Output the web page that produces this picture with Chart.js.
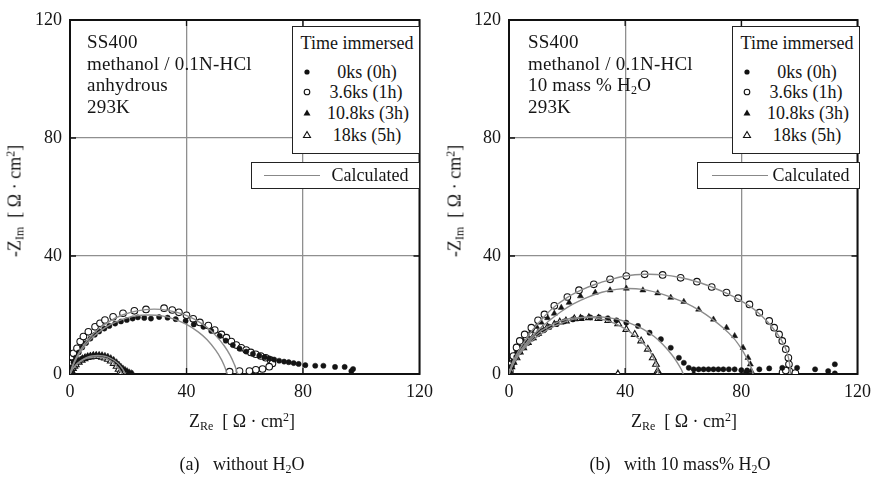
<!DOCTYPE html>
<html><head><meta charset="utf-8">
<script src="https://cdn.jsdelivr.net/npm/chart.js@4/dist/chart.umd.min.js"></script>
<style>
body{margin:0;background:#fff;width:878px;height:479px;overflow:hidden;position:relative;font-family:"Liberation Serif","DejaVu Serif",serif;color:#151515}
canvas{position:absolute;top:0}
.t{position:absolute;white-space:nowrap;font-size:19px;line-height:21.6px;letter-spacing:0.2px}
.c{position:absolute;white-space:nowrap;font-size:18px;transform:translate(-50%,-50%)}
.box{position:absolute;border:1.4px solid #222;background:#fff;box-sizing:border-box}
.mk{position:absolute;transform:translate(-50%,-50%)}
.ln{position:absolute;height:0;border-top:1.3px solid #888}
sub{font-size:12px;vertical-align:-3px;line-height:0}
sup{font-size:12px;vertical-align:6px;line-height:0}
</style></head>
<body>
<canvas id="ca" width="440" height="479" style="left:0"></canvas>
<canvas id="cb" width="438" height="479" style="left:440px"></canvas>

<!-- annotations (a) -->
<div class="t" style="left:87px;top:31px">SS400<br>methanol / 0.1N-HCl<br>anhydrous<br>293K</div>
<!-- annotations (b) -->
<div class="t" style="left:528px;top:31px">SS400<br>methanol / 0.1N-HCl<br>10 mass % H<sub>2</sub>O<br>293K</div>

<!-- legend (a) -->
<div class="box" style="left:292px;top:26px;width:128px;height:128px"></div>
<div class="c" style="left:357px;top:43px">Time immersed</div>
<svg class="mk" style="left:307px;top:72px" width="10" height="10"><circle cx="5" cy="5" r="2.6" fill="#111"/></svg>
<svg class="mk" style="left:307px;top:92px" width="10" height="10"><circle cx="5" cy="5" r="2.8" fill="#fff" stroke="#111" stroke-width="1.1"/></svg>
<svg class="mk" style="left:307px;top:113px" width="10" height="10"><polygon points="5,1.5 8.5,7.5 1.5,7.5" fill="#111"/></svg>
<svg class="mk" style="left:307px;top:135px" width="10" height="10"><polygon points="5,1.5 8.5,7.5 1.5,7.5" fill="#fff" stroke="#111" stroke-width="1.1"/></svg>
<div class="c" style="left:367px;top:72px">0ks (0h)</div>
<div class="c" style="left:366px;top:92px">3.6ks (1h)</div>
<div class="c" style="left:368px;top:113px">10.8ks (3h)</div>
<div class="c" style="left:367px;top:135px">18ks (5h)</div>
<div class="box" style="left:251px;top:162px;width:169px;height:27px"></div>
<div class="ln" style="left:264px;top:175px;width:56px"></div>
<div class="c" style="left:370px;top:175px">Calculated</div>

<!-- legend (b) -->
<div class="box" style="left:732px;top:26px;width:128px;height:128px"></div>
<div class="c" style="left:797px;top:43px">Time immersed</div>
<svg class="mk" style="left:747px;top:72px" width="10" height="10"><circle cx="5" cy="5" r="2.6" fill="#111"/></svg>
<svg class="mk" style="left:747px;top:92px" width="10" height="10"><circle cx="5" cy="5" r="2.8" fill="#fff" stroke="#111" stroke-width="1.1"/></svg>
<svg class="mk" style="left:747px;top:113px" width="10" height="10"><polygon points="5,1.5 8.5,7.5 1.5,7.5" fill="#111"/></svg>
<svg class="mk" style="left:747px;top:135px" width="10" height="10"><polygon points="5,1.5 8.5,7.5 1.5,7.5" fill="#fff" stroke="#111" stroke-width="1.1"/></svg>
<div class="c" style="left:807px;top:72px">0ks (0h)</div>
<div class="c" style="left:806px;top:92px">3.6ks (1h)</div>
<div class="c" style="left:808px;top:113px">10.8ks (3h)</div>
<div class="c" style="left:807px;top:135px">18ks (5h)</div>
<div class="box" style="left:697px;top:162px;width:163px;height:27px"></div>
<div class="ln" style="left:712px;top:175px;width:56px"></div>
<div class="c" style="left:811px;top:175px">Calculated</div>

<!-- axis titles -->
<div class="c" style="left:242px;top:421px">Z<sub>Re</sub>&nbsp;&nbsp;[ Ω · cm<sup>2</sup>]</div>
<div class="c" style="left:684px;top:421px">Z<sub>Re</sub>&nbsp;&nbsp;[ Ω · cm<sup>2</sup>]</div>
<div class="c" style="left:15px;top:201px;transform:translate(-50%,-50%) rotate(-90deg)">-Z<sub>Im</sub>&nbsp;&nbsp;[ Ω · cm<sup>2</sup>]</div>
<div class="c" style="left:455px;top:201px;transform:translate(-50%,-50%) rotate(-90deg)">-Z<sub>Im</sub>&nbsp;&nbsp;[ Ω · cm<sup>2</sup>]</div>

<!-- captions -->
<div class="c" style="left:242px;top:464px">(a)&nbsp;&nbsp; without H<sub>2</sub>O</div>
<div class="c" style="left:680px;top:464px">(b)&nbsp;&nbsp; with 10 mass% H<sub>2</sub>O</div>

<script>
// ---------- axis ticks ----------
const tickValues = [0, 40, 80, 120];

// ---------- (a) without H2O ----------
const a0ksX = [0.2,0.6,1.2,2,3,4.2,5.5,7,8.5,10,11.8,13.5,15.5,17.5,19.5,21.5,23.3,25.5,27.8,30.6,33.5,36.3,39.7,42.5,45.8,48.5,51.4,53.5,55.9,58.2,60.5,62.8,65.0,66.8,68.4,70.1,71.8,73.5,75.1,76.8,78.5,80.8,84.2,87.0,91.0,94.3,96.6,97.2];
const a0ksY = [0.8,2.3,4,5.6,7.3,9,10.5,12,13.3,14.4,15.4,16.3,17.1,17.8,18.3,18.8,19.2,19.0,18.8,19.3,19.1,18.6,18.0,16.8,16.0,14.6,12.9,11.3,9.8,8.6,7.6,6.8,6.2,5.7,5.3,4.9,4.5,4.2,4.0,3.7,3.4,3.0,2.8,2.8,2.4,2.4,1.0,1.7];
const a36ksX = [0.1,0.3,0.7,1.2,2.4,3.5,4.6,6.3,8.6,10.3,12.0,14.8,18.2,22.1,26.1,32.3,35.1,37.4,40.0,42.3,44.6,47.5,49.7,52.0,53.7,55.4,57.1,58.8,60.5,62.1,63.8,65.5,67.2,68.9,69.5,68.4,66.1,63.8,61.6,58.2,54.8];
const a36ksY = [1.2,3.5,5.9,7.0,8.7,11.0,12.7,14.3,16.0,17.2,18.3,19.4,20.6,21.4,21.9,22.3,21.7,20.9,19.9,18.7,17.5,16.4,14.9,13.4,12.3,11.0,9.8,8.9,8.1,7.3,6.7,6.1,5.5,4.7,3.6,2.5,1.7,1.4,1.0,1.0,0.8];
const a108ksX = [0.2,0.5,0.9,1.4,2,2.7,3.5,4.3,5.2,6.1,7,8,9,10,11,12,13,14,15,16,16.8,17.5,18.2,18.9,19.6,20.3,21,21.5];
const a108ksY = [0.6,1.4,2.2,3,3.7,4.3,4.9,5.4,5.8,6.1,6.3,6.5,6.5,6.5,6.4,6.2,5.9,5.4,4.8,4.0,3.2,2.5,1.9,1.4,1.0,0.6,0.3,0.1];
const a18ksX = [0.2,0.5,1,1.5,2,3,4,5,6,7,8,9,10,11,12,13,14,15,16,16.7,17.2,17.5];
const a18ksY = [0.5,1.1,1.9,2.6,3.1,4.0,4.7,5.2,5.6,5.8,6.0,6.0,5.9,5.7,5.4,5.0,4.4,3.6,2.6,1.6,0.7,0.1];
// calculated curves (a)
const aCalc0X = [0,0.5,1,2,4,7,10,14,18,22,27,32,36,40,44,47,50,52,53,53.5,54];
const aCalc0Y = [0,1.4,2.7,4.9,8.1,11.7,14.3,16.8,18.5,19.6,20,19.6,18.5,16.8,14.3,11.7,8.1,4.9,2.7,1.4,0];
const aCalc36X = [0,0.5,1,2,4,7,10,14,18,23,28.75,34,39,43,47,50,53,55,56.5,57,57.5];
const aCalc36Y = [0,1.7,3.1,5.3,8.8,12.6,15.4,18.1,20.0,21.4,22,21.5,20.2,18.4,15.8,13.1,9.5,6.3,3.1,1.7,0];
const aCalc108X = [0,0.5,1,2,3,4.5,6,7.5,9.5,11.5,13,14.5,16,17,18,18.5,19];
const aCalc108Y = [0,1.0,1.8,3.1,4.0,5.0,5.7,6.1,6.3,6.1,5.7,5.0,4.0,3.1,1.8,1.0,0];
const aCalc18X = [0,0.5,1,2,3,4.5,6,7.5,8.9,10.3,11.8,13.3,14.8,15.8,16.8,17.3,17.8];
const aCalc18Y = [0,1.0,1.8,2.9,3.8,4.8,5.4,5.7,5.8,5.7,5.4,4.8,3.8,2.9,1.8,1.0,0];

// ---------- (b) with 10 mass% H2O ----------
const b0ksX = [0.3,0.8,1.5,2.5,3.7,5,6.5,8,10,12,14,16.5,19,22,25,28,31,34,37,40.4,44.4,48.4,52.3,55.7,58.5,60.2,61.9,63.6,65.3,67,68.7,70.4,72.1,73.8,75.7,77.7,80,82,86.2,89.6,94.1,99.2,105.4,109.9,112.2,112.2];
const b0ksY = [0.5,2.5,4,5.8,7.5,9,10.5,12,13.5,14.8,16,17,17.8,18.5,19,19.2,19.2,18.9,18.2,17.4,16.3,14.0,11.8,8.9,5.5,3.8,2.1,1.6,1.6,1.6,1.6,1.6,1.6,1.6,1.6,1.6,1.3,1.2,1.6,1.9,2.1,2.1,1.6,1.0,3.3,0.2];
const b36ksX = [0.3,0.7,1.5,2.6,3.7,5.4,7.7,10,12.2,15.6,20.1,24.1,29.2,34.8,40.4,46.7,52.9,59.1,64.7,69.8,74.9,78.9,82.8,86.2,89.6,91.3,93.0,94.1,95.3,96.2,96.4,96.5,94.2,95.3,98.6];
const b36ksY = [1.0,3.3,6.1,9.0,11.2,13.4,15.7,18.2,20.2,23.1,26.1,28.4,30.4,32.1,33.2,33.8,33.6,32.6,31.3,29.5,27.6,25.7,23.6,20.8,18.0,15.7,13.4,11.2,8.4,5.5,3.3,1.0,0.6,1.2,0.3];
const b108ksX = [0.3,0.8,1.5,2.5,3.5,4.9,6.3,7.7,9.5,11.1,13.3,15.6,18,20.7,24.6,29.7,34.8,40.4,46.1,51.2,55.7,60.2,65.3,70.4,74.9,77.7,80.6,82.3,83.1,83.4,81.2,63.6];
const b108ksY = [1,3,5,7.5,9.5,11.2,13,14.6,16,17.5,19,20.5,22.5,24.2,26.4,27.6,28.4,29.0,28.4,27.4,25.9,24.5,21.9,18.5,15.7,12.9,8.9,5.5,3.3,1.0,0.2,0.2];
const b18ksX = [0.3,0.8,1.5,2.6,3.7,4.9,6.5,8.2,10,11.6,13.3,15.6,17.5,19.6,22.5,24.6,27.5,30.8,34.2,37.6,40.4,43.3,45.5,47.8,49.5,50.6,51.2,51.3,37.5];
const b18ksY = [0.8,2.5,4,5.5,7.5,8.9,10.7,12.3,13.8,15.1,15.9,16.8,17.6,18.0,18.7,18.8,19.1,18.8,18.1,17.0,15.1,13.4,11.2,8.4,5.5,3.3,1.0,0.2,0];
// calculated curves (b)
const bCalc0X = [0,1,2,4,7,10,14,18,22,26,30,34,38,42,46,50,53,56,58,59.3,60];
const bCalc0Y = [0,2.5,4.3,7.2,10.4,12.9,15.4,17.2,18.5,19.2,19.4,19.1,18.4,17.1,15.3,12.7,10,6.6,3.8,1.6,0];
const bCalc36X = [0,1,2,4,6,8,11,15,20,25,30,35,40,47,53,59,65,70,75,79,83,86,89,91.5,93.5,95,96,96.6,97];
const bCalc36Y = [0,3.5,5.5,9,12,14.8,18.2,22.3,25.9,28.5,30.5,32,33.2,33.8,33.6,32.7,31.2,29.4,27.3,25.3,22.9,20.6,17.7,14.8,12,9.2,6.5,3.5,0];
const bCalc108X = [0,1,2,4,7,10,14,18,22,27,32,37,41,46,51,56,61,66,70,74,77.5,80,81.8,83,83.8,84];
const bCalc108Y = [0,2.8,4.8,8,11.8,14.8,18.2,21.2,23.7,26,27.7,28.7,29,28.7,27.6,26,24,21.3,18.6,15.4,12,8.6,5.5,3,1.2,0];
const bCalc18X = [0,1,2,4,7,10,13,17,21,25,29,33,37,40,43,45.5,47.8,49.5,50.6,51.2,51.5];
const bCalc18Y = [0,2.6,4.5,7.6,11.1,13.8,15.8,17.7,18.8,19.2,19.1,18.3,16.9,15.3,13.3,11.2,8.6,6,3.6,1.5,0];

// ---------- helpers ----------
function pts(xs, ys){ return xs.map((x,i)=>({x:x, y:ys[i]})); }
const INK = '#141414';
function markerSet(label, xs, ys, kind){
  const filled = kind === 'dot' || kind === 'tri';
  const style = (kind === 'dot' || kind === 'ring') ? 'circle' : 'triangle';
  const r = kind === 'dot' ? 2.6 : kind === 'ring' ? 3.3 : kind === 'tri' ? 3.5 : 3.9;
  return {label, data: pts(xs, ys), showLine:false, pointStyle: style, pointRadius: r,
    pointBackgroundColor: filled ? INK : '#fff', pointBorderColor: INK,
    pointBorderWidth: filled ? 0.5 : 1.1, order: 1};
}
function calcSet(xs, ys){
  return {label:'Calculated', data: pts(xs, ys), showLine:true, pointRadius:0,
    borderColor:'#8c8c8c', borderWidth:1.4, tension:0.35, fill:false, order:0};
}
const framePlugin = {
  id:'frame',
  beforeDatasetsDraw(chart){
    const {ctx, chartArea:a, scales} = chart;
    ctx.save();
    ctx.strokeStyle = '#111';
    ctx.lineWidth = 1.3;
    ctx.beginPath();
    [40,80].forEach(v=>{
      const px = scales.x.getPixelForValue(v), py = scales.y.getPixelForValue(v);
      ctx.moveTo(px, a.bottom); ctx.lineTo(px, a.bottom-6);
      ctx.moveTo(px, a.top); ctx.lineTo(px, a.top+6);
      ctx.moveTo(a.left, py); ctx.lineTo(a.left+6, py);
      ctx.moveTo(a.right, py); ctx.lineTo(a.right-6, py);
    });
    ctx.stroke();
    ctx.lineWidth = 2;
    ctx.strokeRect(a.left, a.top, a.right-a.left, a.bottom-a.top);
    ctx.restore();
  }
};
function axis(isX, fitSize){
  return {
    type:'linear', min:tickValues[0], max:tickValues[tickValues.length-1],
    afterBuildTicks(s){ s.ticks = tickValues.map(v=>({value:v})); },
    ticks:{padding: isX ? 7 : 8, color:'#151515', font:{family:'Liberation Serif', size:18}},
    grid:{color:'#8f8f8f', lineWidth:1.3, drawTicks:false},
    border:{display:false},
    afterFit(s){ if(isX) s.height = fitSize; else s.width = fitSize; }
  };
}
function makeChart(id, datasets, yWidth, padRight){
  return new Chart(document.getElementById(id), {
    type:'scatter',
    data:{datasets},
    options:{
      responsive:false, animation:false, devicePixelRatio:1,
      layout:{padding:{top:20, right:padRight, bottom:0, left:0}},
      plugins:{legend:{display:false}, tooltip:{enabled:false}},
      scales:{x: axis(true, 479-374), y: axis(false, yWidth)}
    },
    plugins:[framePlugin]
  });
}

makeChart('ca', [
  calcSet(aCalc0X, aCalc0Y), calcSet(aCalc36X, aCalc36Y),
  calcSet(aCalc108X, aCalc108Y), calcSet(aCalc18X, aCalc18Y),
  markerSet('0ks (0h)', a0ksX, a0ksY, 'dot'),
  markerSet('3.6ks (1h)', a36ksX, a36ksY, 'ring'),
  markerSet('10.8ks (3h)', a108ksX, a108ksY, 'tri'),
  markerSet('18ks (5h)', a18ksX, a18ksY, 'otri')
], 70, 16);

makeChart('cb', [
  calcSet(bCalc0X, bCalc0Y), calcSet(bCalc36X, bCalc36Y),
  calcSet(bCalc108X, bCalc108Y), calcSet(bCalc18X, bCalc18Y),
  markerSet('0ks (0h)', b0ksX, b0ksY, 'dot'),
  markerSet('3.6ks (1h)', b36ksX, b36ksY, 'ring'),
  markerSet('10.8ks (3h)', b108ksX, b108ksY, 'tri'),
  markerSet('18ks (5h)', b18ksX, b18ksY, 'otri')
], 69, 15);
</script>
</body></html>
